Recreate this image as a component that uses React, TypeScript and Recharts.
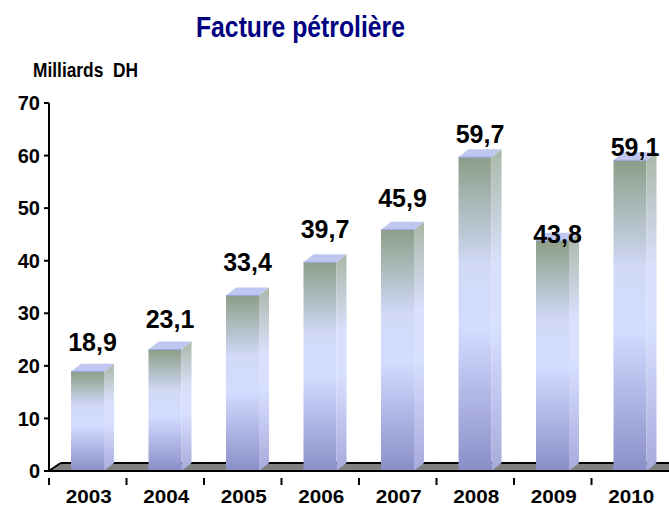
import { BarChart, Bar, XAxis, YAxis, LabelList } from 'recharts';

const years = ['2003', '2004', '2005', '2006', '2007', '2008', '2009', '2010'];
const facture = [18.9, 23.1, 33.4, 39.7, 45.9, 59.7, 43.8, 59.1];
const yTicks = [0, 10, 20, 30, 40, 50, 60, 70];
// how far each value label sits above its bar (the original is not regular)
const labelLift = [30, 31, 33, 33, 32, 23, 7, 13];

const W = 669;
const H = 508;
const AXIS_W = 49;
const BAND = (W - AXIS_W) / years.length;
const DX = 10;
const DY = 8;
const FONT = '"Liberation Sans", Arial, sans-serif';

const data = years.map((year, i) => ({ year, value: facture[i] }));

function fmt(v: number) {
  return v.toFixed(1).replace('.', ',');
}

function Bar3D(props: any) {
  const { x, y, width, height } = props;
  if (height <= 0) return null;
  const r = x + width;
  return (
    <g>
      <rect x={x} y={y} width={width} height={height} fill="url(#frontGrad)" />
      <path
        d={`M${r},${y} L${r + DX},${y - DY} L${r + DX},${y + height - DY} L${r},${y + height} Z`}
        fill="url(#sideGrad)"
      />
      <path
        d={`M${x},${y} L${x + DX},${y - DY} L${r + DX},${y - DY} L${r},${y} Z`}
        fill="#bfc6f0"
      />
      <line x1={x} y1={y} x2={r} y2={y} stroke="#9aa2dc" strokeWidth={1} />
    </g>
  );
}

// gray 3D floor, drawn one band at a time behind the bars
function FloorPiece(props: any) {
  const { x, y, width, height, index } = props;
  const pad = (BAND - width) / 2;
  const bottom = y + height;
  const top = bottom - DY;
  const first = index === 0;
  const last = index === years.length - 1;
  const l = x - pad;
  const rr = x + width + pad + (last ? DX + 4 : 1);
  const lTop = first ? l + DX + 2 : l;
  return (
    <g>
      <path d={`M${l},${bottom} L${lTop},${top} L${rr},${top} L${rr},${bottom} Z`} fill="#808080" />
      {first && <line x1={l} y1={bottom} x2={lTop} y2={top} stroke="#000" strokeWidth={2} />}
      <line x1={lTop} y1={top} x2={rr} y2={top} stroke="#000" strokeWidth={2} />
    </g>
  );
}

function XTick(props: any) {
  const { x, y, payload } = props;
  const left = x - BAND / 2;
  return (
    <g>
      <line x1={left} y1={y - 1} x2={left} y2={y + 6} stroke="#000" strokeWidth={2} />
      <text
        x={x + 1}
        y={y + 24}
        textAnchor="middle"
        textLength={46}
        lengthAdjust="spacingAndGlyphs"
        fontFamily={FONT}
        fontWeight="bold"
        fontSize={19}
        fill="#000"
      >
        {payload.value}
      </text>
    </g>
  );
}

function ValueLabel(props: any) {
  const { x, y, width, value, index } = props;
  return (
    <text
      x={x + width / 2 + 5}
      y={y - labelLift[index] + 9}
      textAnchor="middle"
      fontFamily={FONT}
      fontWeight="bold"
      fontSize={25}
      fill="#000"
    >
      {fmt(value)}
    </text>
  );
}

export default function App() {
  return (
    <div style={{ position: 'absolute', left: 0, top: 0, width: W, height: H, overflow: 'hidden', background: '#fff' }}>
      <svg width={W} height={100} style={{ position: 'absolute', left: 0, top: 0 }}>
        <text
          x={196}
          y={37}
          textLength={209}
          lengthAdjust="spacingAndGlyphs"
          fontFamily={FONT}
          fontWeight="bold"
          fontSize={30}
          fill="#000080"
        >
          Facture pétrolière
        </text>
        <text
          x={33}
          y={77}
          textLength={105}
          lengthAdjust="spacingAndGlyphs"
          fontFamily={FONT}
          fontWeight="bold"
          fontSize={20}
          fill="#000"
        >
          {'Milliards\u00a0 DH'}
        </text>
      </svg>
      <BarChart width={W} height={H} data={data} margin={{ top: 103, right: 0, bottom: 7, left: 0 }}>
        <defs>
          <linearGradient id="frontGrad" x1="0" y1="0" x2="0" y2="1">
            <stop offset="0%" stopColor="#8c9e88" />
            <stop offset="35%" stopColor="#d2daf8" />
            <stop offset="55%" stopColor="#d3dbff" />
            <stop offset="100%" stopColor="#8a8ec8" />
          </linearGradient>
          <linearGradient id="sideGrad" x1="0" y1="0" x2="0" y2="1">
            <stop offset="0%" stopColor="#a9b8a8" />
            <stop offset="35%" stopColor="#d8e0fb" />
            <stop offset="55%" stopColor="#d8e0ff" />
            <stop offset="100%" stopColor="#a6aadc" />
          </linearGradient>
        </defs>
        <XAxis
          dataKey="year"
          height={30}
          axisLine={{ stroke: '#000', strokeWidth: 2 }}
          tickLine={false}
          tick={<XTick />}
          interval={0}
        />
        <YAxis
          width={AXIS_W}
          domain={[0, 70]}
          ticks={yTicks}
          interval={0}
          axisLine={{ stroke: '#000', strokeWidth: 2 }}
          tickLine={{ stroke: '#000', strokeWidth: 2 }}
          tickSize={5}
          tickMargin={4}
          tick={{ fill: '#000', fontFamily: FONT, fontWeight: 'bold', fontSize: 20 }}
        />
        <Bar
          dataKey="value"
          barSize={33}
          shape={<Bar3D />}
          background={<FloorPiece />}
          isAnimationActive={false}
        >
          <LabelList dataKey="value" content={<ValueLabel />} />
        </Bar>
      </BarChart>
    </div>
  );
}
